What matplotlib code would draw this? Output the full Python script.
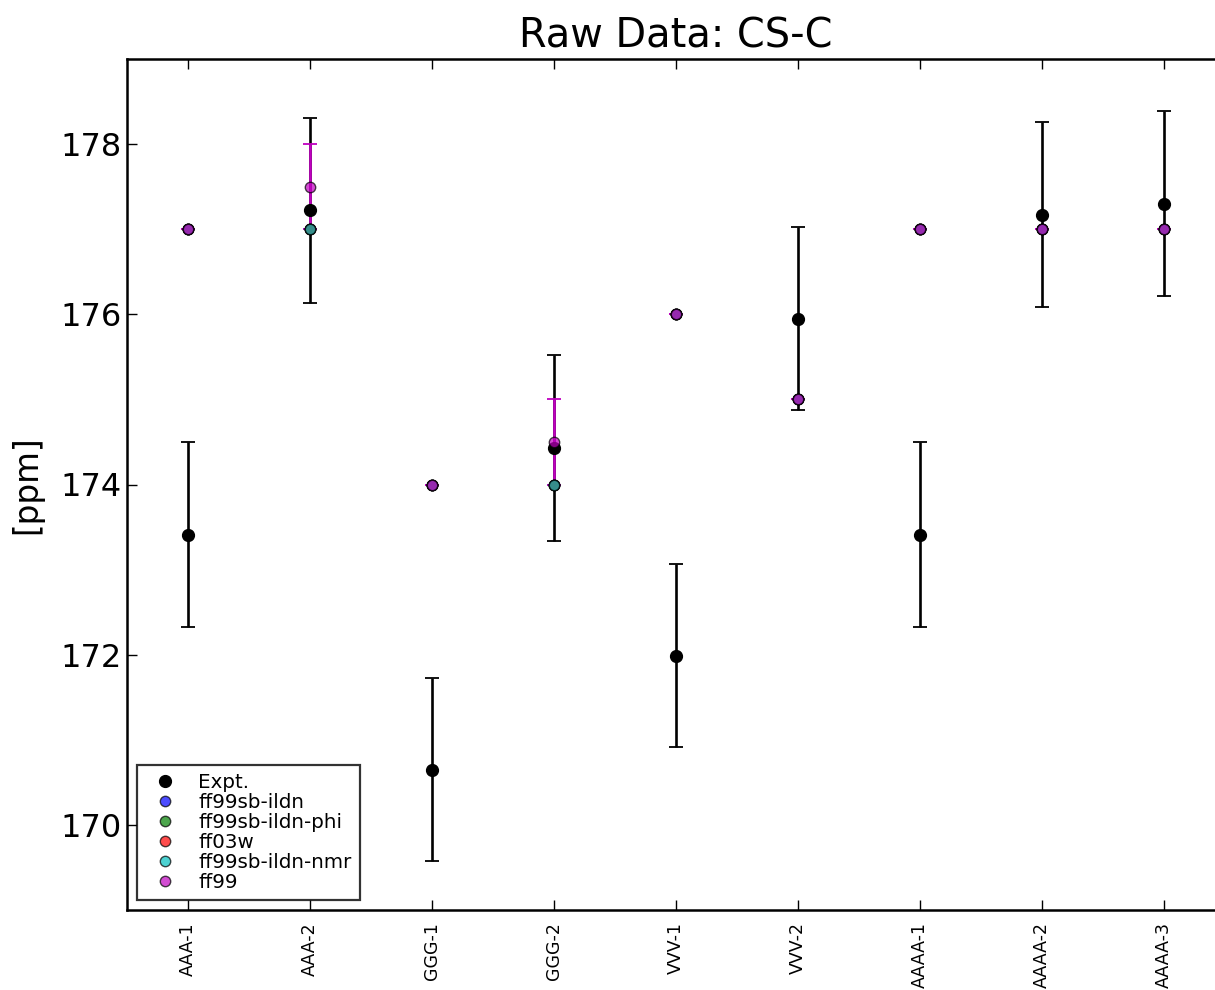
import matplotlib
matplotlib.use("Agg")
import matplotlib.pyplot as plt
import numpy as np

# systems on the x axis
labels = ['AAA-1', 'AAA-2', 'GGG-1', 'GGG-2', 'VVV-1', 'VVV-2', 'AAAA-1', 'AAAA-2', 'AAAA-3']

# experimental chemical shifts and uncertainties
expt = [173.41, 177.22, 170.65, 174.43, 171.99, 175.95, 173.41, 177.17, 177.30]
expt_err = [1.09, 1.09, 1.08, 1.09, 1.08, 1.08, 1.09, 1.09, 1.09]

# force field predictions
ff_names = ['ff99sb-ildn', 'ff99sb-ildn-phi', 'ff03w', 'ff99sb-ildn-nmr', 'ff99']
ff_colors = ['b', 'g', 'r', 'c', 'm']
ff_vals = [
    [177.0, 177.0, 174.0, 174.0, 176.0, 175.0, 177.0, 177.0, 177.0],
    [177.0, 177.0, 174.0, 174.0, 176.0, 175.0, 177.0, 177.0, 177.0],
    [177.0, 177.0, 174.0, 174.0, 176.0, 175.0, 177.0, 177.0, 177.0],
    [177.0, 177.0, 174.0, 174.0, 176.0, 175.0, 177.0, 177.0, 177.0],
    [177.0, 177.5, 174.0, 174.5, 176.0, 175.0, 177.0, 177.0, 177.0],
]
ff_errs = [
    [0, 0, 0, 0, 0, 0, 0, 0, 0],
    [0, 0, 0, 0, 0, 0, 0, 0, 0],
    [0, 0, 0, 0, 0, 0, 0, 0, 0],
    [0, 0, 0, 0, 0, 0, 0, 0, 0],
    [0, 0.5, 0, 0.5, 0, 0, 0, 0, 0],
]

COLORS = {'b': (0, 0, 1), 'g': (0, 0.5, 0), 'r': (1, 0, 0),
          'c': (0, 0.75, 0.75), 'm': (0.75, 0, 0.75)}

fig = plt.figure(figsize=(12.15, 9.9), dpi=100)
ax = fig.add_axes([127 / 1215, 1 - 910 / 990, 1098 / 1215, 851 / 990])

x = np.arange(len(labels))

# error bars first (experiment, then the models)
ax.errorbar(x, expt, yerr=expt_err, fmt='none', ecolor='k', elinewidth=1.9,
            capsize=5, capthick=1.3)
for vals, errs, c in zip(ff_vals, ff_errs, ff_colors):
    ax.errorbar(x, vals, yerr=errs, fmt='none', ecolor=COLORS[c], elinewidth=1.9,
                capsize=5, capthick=1.3)

# markers on top
ax.plot(x, expt, 'o', color='k', markersize=8.5, label='Expt.')
for vals, name, c in zip(ff_vals, ff_names, ff_colors):
    ax.plot(x, vals, 'o', markerfacecolor=COLORS[c], markeredgecolor='k',
            markeredgewidth=1.0, markersize=7.5, alpha=0.7, label=name)

ax.set_xlim(-0.5, 8.5)
ax.set_ylim(169, 179)
ax.set_xticks(x)
ax.set_xticklabels(labels, rotation=90, fontsize=12.5)
ax.set_yticks([170, 172, 174, 176, 178])
ax.tick_params(axis='y', labelsize=23, pad=4)
ax.tick_params(direction='in', length=7, width=1, top=True, right=True)
ax.tick_params(axis='x', pad=9)
for sp in ax.spines.values():
    sp.set_linewidth(1.8)

ax.set_ylabel('[ppm]', fontsize=23.5, labelpad=12)
ax.set_title('Raw Data: CS-C', fontsize=28.7, pad=8)

leg = ax.legend(loc='lower left', numpoints=1, fontsize=14.3, fancybox=False,
                frameon=True, borderaxespad=0.5, handletextpad=0.7,
                labelspacing=0.05, borderpad=0.4)
leg.get_frame().set_edgecolor('k')
leg.get_frame().set_linewidth(1.6)

fig.savefig('out.png', dpi=100)
